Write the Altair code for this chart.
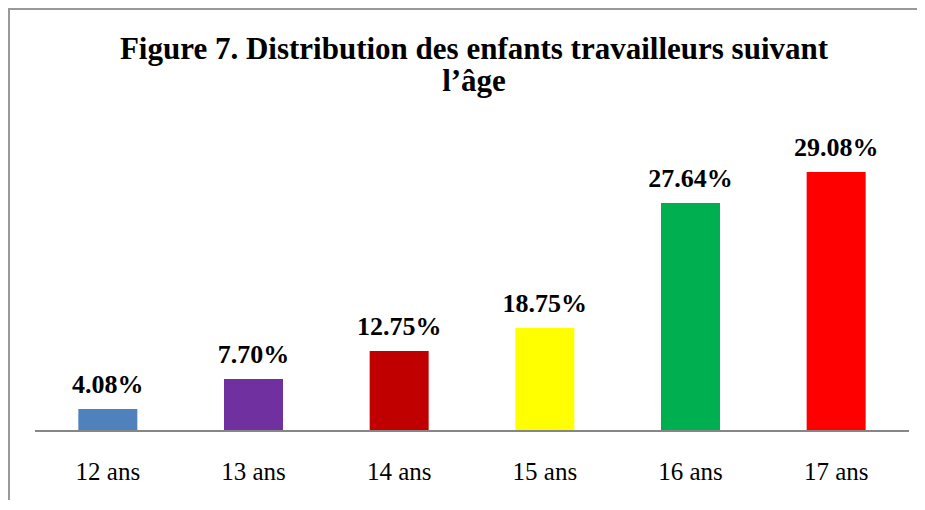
import altair as alt
import pandas as pd

categories = ["12 ans", "13 ans", "14 ans", "15 ans", "16 ans", "17 ans"]
# bar heights (same units as the labels)
bar_heights = [2.47, 5.83, 8.97, 11.55, 25.58, 29.06]
value_labels = ["4.08%", "7.70%", "12.75%", "18.75%", "27.64%", "29.08%"]
bar_colors = ["#4F81BD", "#7030A0", "#C00000", "#FFFF00", "#00B050", "#FF0000"]
title_lines = ["Figure 7. Distribution des enfants travailleurs suivant", "l\u2019\u00e2ge"]

df = pd.DataFrame({
    "cat": categories,
    "h": bar_heights,
    "lab": value_labels,
    "col": bar_colors,
})

W, H = 874, 312
PL, PT, PR, PB = 27, 111, 8, 69

x = alt.X("cat:N", sort=categories,
          scale=alt.Scale(paddingInner=0.595, paddingOuter=0.2975), axis=None)
y = alt.Y("h:Q", scale=alt.Scale(domain=[0, 35]), axis=None)

base = alt.Chart(df)

bars = base.mark_bar().encode(
    x=x, y=y, color=alt.Color("col:N", scale=None)
)

labels = base.mark_text(
    font="Liberation Serif", fontSize=26, fontWeight="bold",
    color="#000000", baseline="alphabetic", dy=-16
).encode(x=x, y=y, text="lab:N")

ticklabels = base.mark_text(
    font="Liberation Serif", fontSize=25, color="#000000",
    baseline="alphabetic"
).encode(x=x, y=alt.value(H + 49), text="cat:N")

baseline = alt.Chart(df).mark_rule(color="#868686", strokeWidth=2).encode(
    y=alt.value(H), x=alt.value(0), x2=alt.value(W)
)

title_parts = []
for i, (line, ypos) in enumerate(zip(title_lines, [-60, -28])):
    title_parts.append(
        alt.Chart(pd.DataFrame({"t": [line]})).mark_text(
            font="Liberation Serif", fontSize=31, fontWeight="bold",
            color="#000000", baseline="alphabetic", align="center"
        ).encode(x=alt.value(W / 2 + 2), y=alt.value(ypos), text="t:N")
    )

border_left = alt.Chart(df).mark_rule(color="#999999", strokeWidth=2).encode(
    x=alt.value(-PL + 1), y=alt.value(-PT), y2=alt.value(H + PB)
)
border_top = alt.Chart(df).mark_rule(color="#999999", strokeWidth=2).encode(
    y=alt.value(-PT + 1), x=alt.value(-PL), x2=alt.value(W + PR)
)

chart = alt.layer(
    bars, labels, ticklabels, baseline, *title_parts, border_left, border_top
).properties(
    width=W, height=H,
    autosize=alt.AutoSizeParams(type="none"),
    padding={"left": PL, "top": PT, "right": PR, "bottom": PB},
    background="#ffffff",
).configure_view(stroke=None)

chart.save("out.html", embed_options={"renderer": "svg", "actions": False})
